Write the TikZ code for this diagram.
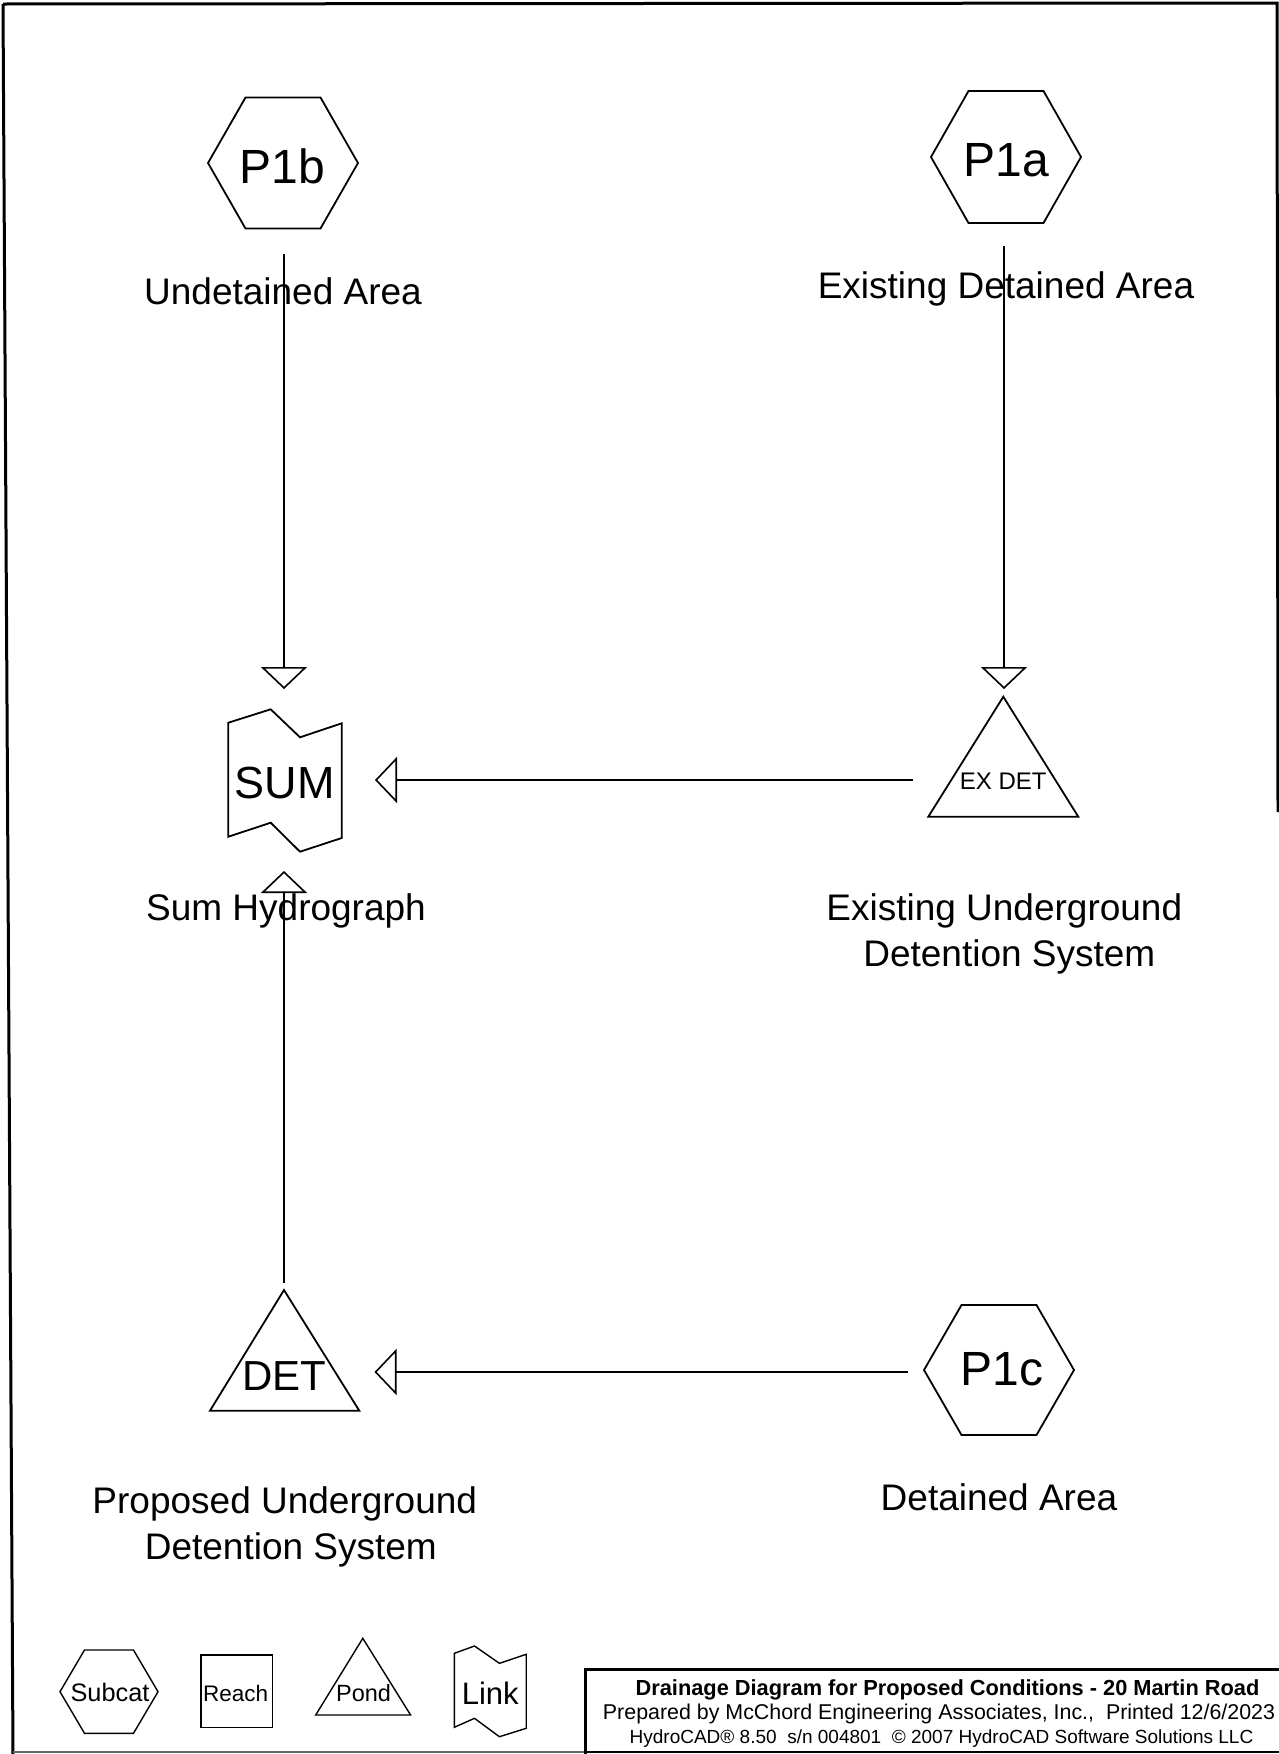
\documentclass[tikz,border=0pt]{standalone}
\usepackage{fontspec}
\setmainfont{Liberation Sans}
\usetikzlibrary{arrows.meta}
\begin{document}
\begin{tikzpicture}[x=1pt,y=-1pt,
  shp/.style={line width=1.8pt, line join=miter},
  legshp/.style={line width=1.4pt, line join=miter},
  conn/.style={line width=1.6pt, -{Triangle[open,length=22pt,width=46pt]}},
  frame/.style={line width=3pt},
  lbl/.style={inner sep=0pt, anchor=base, align=center, font=\fontsize{37}{46}\selectfont},
  ntxt/.style={inner sep=0pt, anchor=base},
  ttl/.style={inner sep=0pt, anchor=base}]
\useasboundingbox (0,0) rectangle (1279,1754);
\fill[white] (0,0) rectangle (1279,1754);

% scanned page frame
\draw[frame] (3,4) -- (1277,3) -- (1278,812);
\draw[frame] (3,4) -- (13,1754);
\draw[line width=1.2pt, black!60] (13,1752) -- (585,1752);

% ---------- node outlines ----------
% P1b hexagon
\draw[shp] (208,163) -- (245.5,97.5) -- (320.5,97.5) -- (358,163) -- (320.5,228.5) -- (245.5,228.5) -- cycle;
% P1a hexagon
\draw[shp] (931,157) -- (968.5,91) -- (1043.5,91) -- (1081,157) -- (1043.5,223) -- (968.5,223) -- cycle;
% P1c hexagon
\draw[shp] (924,1370) -- (961.5,1305) -- (1036.5,1305) -- (1074,1370) -- (1036.5,1435) -- (961.5,1435) -- cycle;
% SUM link
\draw[shp] (228.3,722.7) -- (270.7,709.3) -- (300,737.3) -- (341.7,723.3) -- (341.7,838) -- (300,851.7) -- (270.7,822.7) -- (228.3,836.7) -- cycle;
% EX DET pond
\draw[shp] (1003.3,696.7) -- (1078.3,816.7) -- (928.3,816.7) -- cycle;
% DET pond
\draw[shp] (284,1290) -- (359.3,1410.7) -- (210,1410.7) -- cycle;

% ---------- node names ----------
\node[ntxt, font=\fontsize{48}{48}\selectfont] (p1b) at (282.5,183) {P1b};
\node[ntxt, font=\fontsize{48}{48}\selectfont] (p1a) at (1006,176) {P1a};
\node[ntxt, font=\fontsize{48}{48}\selectfont] (p1c) at (1002,1385) {P1c};
\node[ntxt, font=\fontsize{45}{45}\selectfont] (sum) at (284.5,798) {SUM};
\node[ntxt, font=\fontsize{24}{24}\selectfont] (exdet) at (1003.3,789.3) {EX DET};
\node[ntxt, font=\fontsize{42}{42}\selectfont] (det) at (284,1390.7) {DET};

% ---------- descriptions ----------
\node[lbl] (p1b-d) at (283,304) {Undetained Area};
\node[lbl] (p1a-d) at (1006,298) {Existing Detained Area};
\node[lbl] (sum-d) at (286,920) {Sum Hydrograph};
\node[lbl] (exdet-d) at (1004.3,966) {Existing Underground\\\hspace*{10pt}Detention System};
\node[lbl] (det-d) at (284.8,1559) {Proposed Underground\\\hspace*{12pt}Detention System};
\node[lbl] (p1c-d) at (999,1510) {Detained Area};

% ---------- connectors ----------
\coordinate (p1b-o) at (284,254);
\coordinate (sum-n) at (284,689);
\coordinate (p1a-o) at (1004,246);
\coordinate (exdet-n) at (1004,689);
\coordinate (exdet-w) at (913,780);
\coordinate (sum-e) at (375,780);
\coordinate (det-n) at (284,1283);
\coordinate (sum-s) at (284,871);
\coordinate (p1c-w) at (908,1372);
\coordinate (det-e) at (374.5,1372);
\draw[conn] (p1b-o) -- (sum-n);
\draw[conn] (p1a-o) -- (exdet-n);
\draw[conn] (exdet-w) -- (sum-e);
\draw[conn] (det-n) -- (sum-s);
\draw[conn] (p1c-w) -- (det-e);

% ---------- legend ----------
\draw[legshp] (60,1691.7) -- (84.5,1650) -- (133.5,1650) -- (158,1691.7) -- (133.5,1733.3) -- (84.5,1733.3) -- cycle;
\draw[legshp] (201,1655) rectangle (272.5,1727.3);
\draw[legshp] (362.8,1638.3) -- (410.6,1715) -- (315.7,1715) -- cycle;
\draw[legshp] (454.3,1653.3) -- (474.5,1646) -- (499.4,1663.3) -- (526.2,1654.3) -- (526.2,1728.3) -- (499.4,1736.7) -- (474.5,1718.3) -- (454.3,1727.3) -- cycle;
\node[ntxt, font=\fontsize{25.3}{25.3}\selectfont] (leg-subcat) at (110,1701.7) {Subcat};
\node[ntxt, font=\fontsize{22.5}{22.5}\selectfont] (leg-reach) at (235.7,1701.7) {Reach};
\node[ntxt, font=\fontsize{23.5}{23.5}\selectfont] (leg-pond) at (363.6,1701) {Pond};
\node[ntxt, font=\fontsize{31}{31}\selectfont] (leg-link) at (490.2,1704) {Link};

% ---------- title block ----------
\draw[frame] (585,1754) -- (585,1669) -- (1279,1669);
\draw[line width=2pt] (585,1752) -- (1279,1752);
\node[ttl, font=\bfseries\fontsize{21.8}{21.8}\selectfont] (t1) at (947.5,1695.5) {Drainage Diagram for Proposed Conditions - 20 Martin Road};
\node[ttl, font=\fontsize{21.4}{21.4}\selectfont] (t2) at (939,1719.5) {Prepared by McChord Engineering Associates, Inc.,\ \ Printed 12/6/2023};
\node[ttl, font=\fontsize{19}{19}\selectfont] (t3) at (941.5,1743.5) {HydroCAD® 8.50\ \ s/n 004801\ \ © 2007 HydroCAD Software Solutions LLC};
\end{tikzpicture}
\end{document}
